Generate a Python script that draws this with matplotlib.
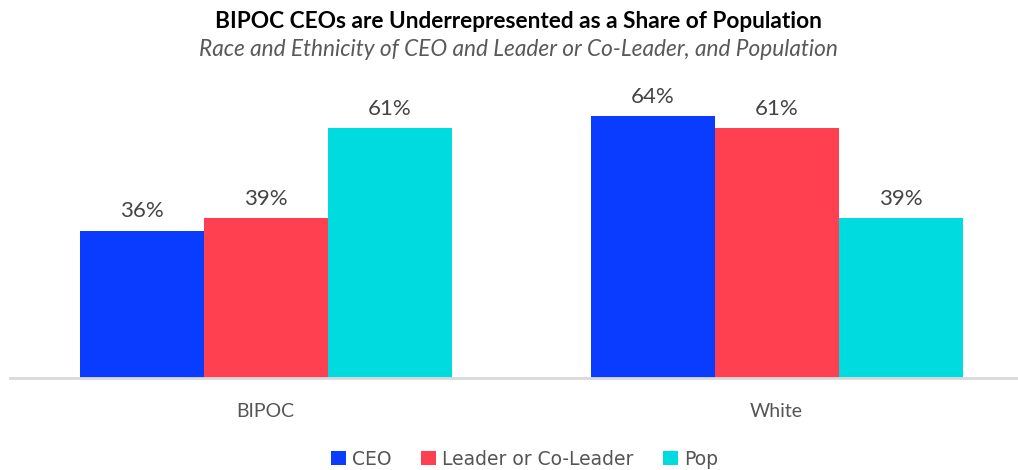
import numpy as np
import matplotlib.pyplot as plt

categories = ["BIPOC", "White"]
series_names = ["CEO", "Leader or Co-Leader", "Pop"]
ceo = [36, 64]
leader = [39, 61]
pop = [61, 39]
colors = ["#0a3cff", "#ff4050", "#00dbe0"]

plt.rcParams["font.family"] = ["Lato", "DejaVu Sans"]

fig = plt.figure(figsize=(10.18, 4.70), dpi=100)
ax = fig.add_axes([10 / 1018, 1 - 378 / 470, 1008 / 1018, (378 - 91.4) / 470])

x = np.arange(len(categories))
w = 124 / 511
for i, (vals, name) in enumerate(zip([ceo, leader, pop], series_names)):
    bars = ax.bar(x + (i - 1) * w, vals, w, color=colors[i], label=name)
    for b, v in zip(bars, vals):
        ax.text(b.get_x() + b.get_width() / 2, v + 2.3, f"{v}%",
                ha="center", va="bottom", fontsize=16, color="#444444")

ax.set_xlim(-0.5, -0.5 + 1008 / 511)
ax.set_ylim(0, 70)
ax.set_yticks([])
ax.set_xticks(x)
ax.set_xticklabels(categories, fontsize=14, color="#555555")
ax.tick_params(axis="x", length=0, pad=18)
for s in ["top", "right", "left"]:
    ax.spines[s].set_visible(False)
ax.spines["bottom"].set_color("#d9d9d9")
ax.spines["bottom"].set_linewidth(2)

fig.text(0.509, 0.955, "BIPOC CEOs are Underrepresented as a Share of Population",
         ha="center", va="center", fontsize=16.3, fontweight="bold", color="black")
fig.text(0.509, 0.895, "Race and Ethnicity of CEO and Leader or Co-Leader, and Population",
         ha="center", va="center", fontsize=16.3, style="italic", color="#595959")

leg = fig.legend(loc="center", bbox_to_anchor=(0.515, 0.023), ncol=3, frameon=False,
                 handlelength=0.8, handleheight=0.8, handletextpad=0.3,
                 columnspacing=1.6, labelcolor="#555555",
                 prop={"family": "DejaVu Sans", "size": 13.5})

fig.savefig("out.png", dpi=100)
